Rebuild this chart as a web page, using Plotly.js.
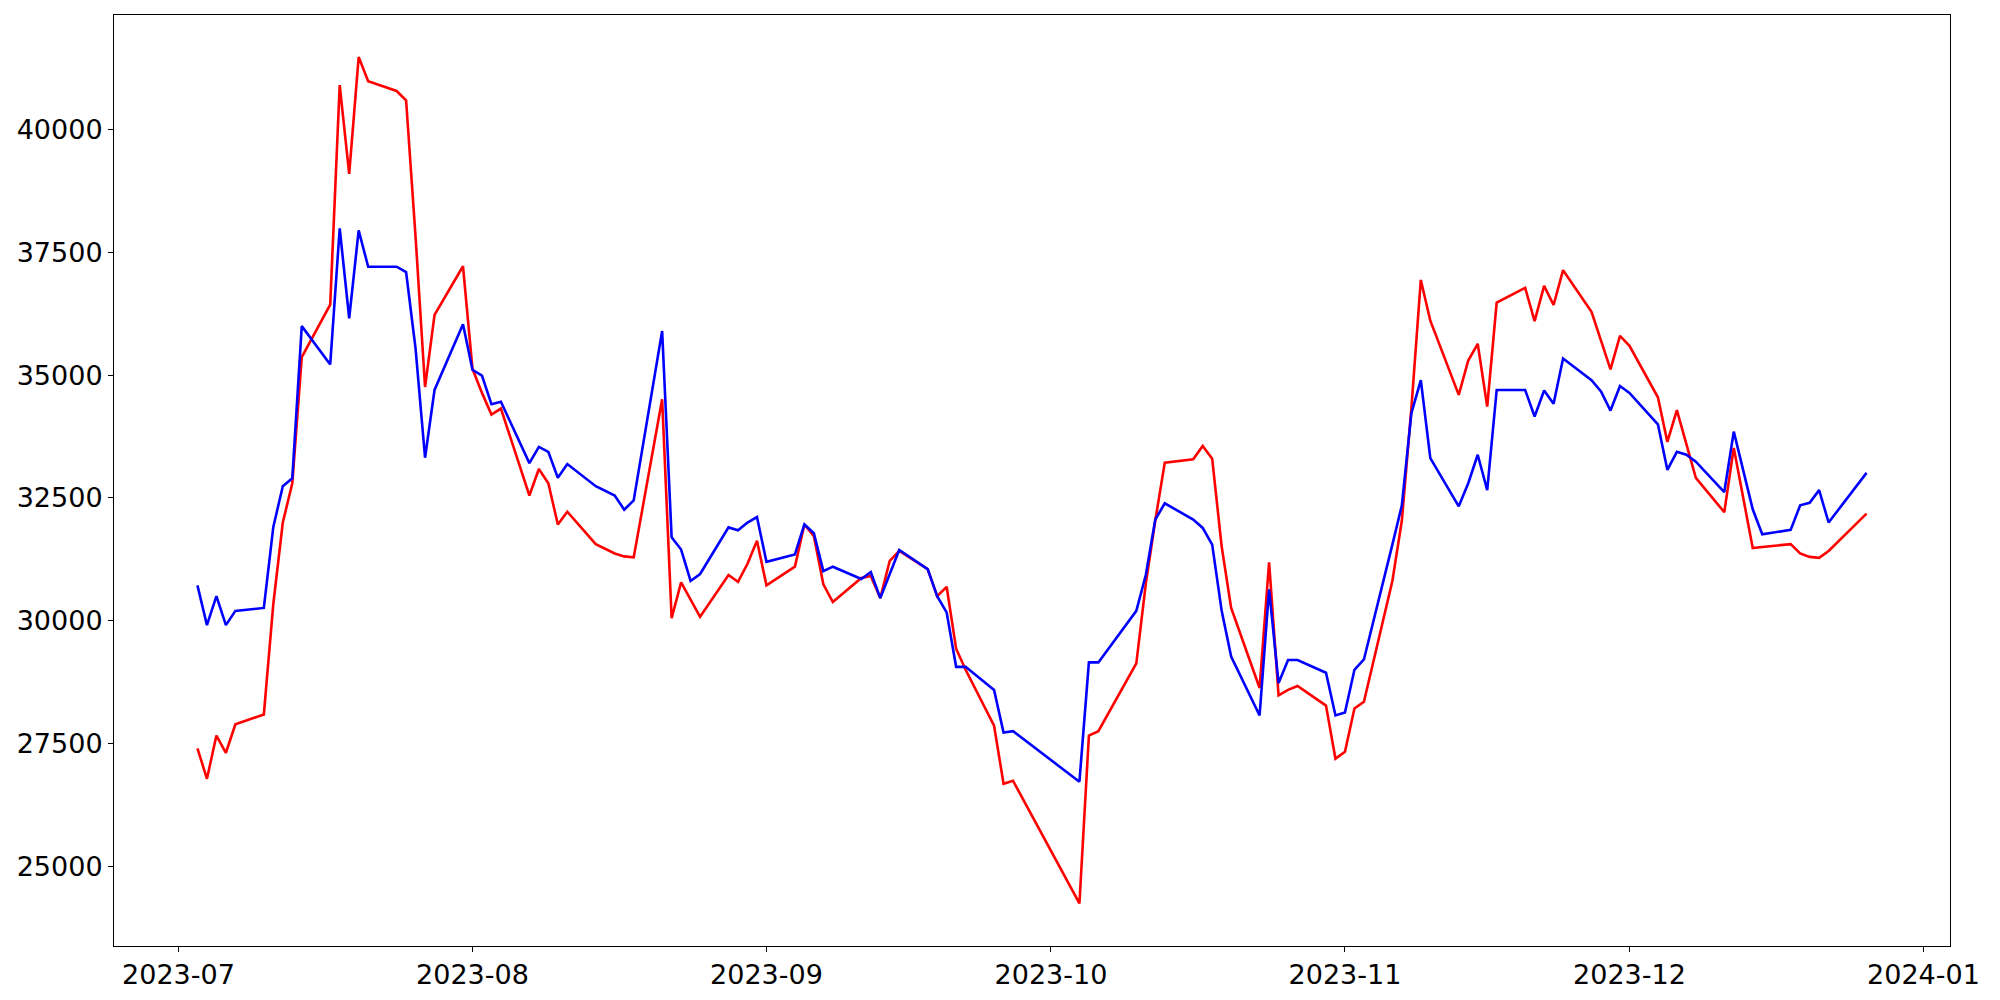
<!DOCTYPE html>
<html>
<head>
<meta charset="utf-8">
<script src="https://cdn.plot.ly/plotly-3.0.1.min.js"></script>
<style>html,body{margin:0;padding:0;background:#fff;}#chart{width:2000px;height:1000px;}</style>
</head>
<body>
<div id="chart"></div>
<script>
// Trading days (Jul 3 - Dec 26, 2023)
const dates = [
 '2023-07-03','2023-07-04','2023-07-05','2023-07-06','2023-07-07','2023-07-10','2023-07-11','2023-07-12','2023-07-13','2023-07-14',
 '2023-07-17','2023-07-18','2023-07-19','2023-07-20','2023-07-21','2023-07-24','2023-07-25','2023-07-26','2023-07-27','2023-07-28','2023-07-31',
 '2023-08-01','2023-08-02','2023-08-03','2023-08-04','2023-08-07','2023-08-08','2023-08-09','2023-08-10','2023-08-11','2023-08-14',
 '2023-08-16','2023-08-17','2023-08-18','2023-08-21','2023-08-22','2023-08-23','2023-08-24','2023-08-25','2023-08-28','2023-08-29','2023-08-30','2023-08-31',
 '2023-09-01','2023-09-04','2023-09-05','2023-09-06','2023-09-07','2023-09-08','2023-09-11','2023-09-12','2023-09-13','2023-09-14',
 '2023-09-15','2023-09-18','2023-09-19','2023-09-20','2023-09-21','2023-09-22','2023-09-25','2023-09-26','2023-09-27',
 '2023-10-04','2023-10-05','2023-10-06','2023-10-10','2023-10-11','2023-10-12','2023-10-13','2023-10-16','2023-10-17','2023-10-18',
 '2023-10-19','2023-10-20','2023-10-23','2023-10-24','2023-10-25','2023-10-26','2023-10-27','2023-10-30','2023-10-31',
 '2023-11-01','2023-11-02','2023-11-03','2023-11-06','2023-11-07','2023-11-08','2023-11-09','2023-11-10','2023-11-13','2023-11-14',
 '2023-11-15','2023-11-16','2023-11-17','2023-11-20','2023-11-21','2023-11-22','2023-11-23','2023-11-24','2023-11-27','2023-11-28','2023-11-29','2023-11-30',
 '2023-12-01','2023-12-04','2023-12-05','2023-12-06','2023-12-07','2023-12-08','2023-12-11','2023-12-12','2023-12-13','2023-12-14',
 '2023-12-15','2023-12-18','2023-12-19','2023-12-20','2023-12-21','2023-12-22','2023-12-26'
];

const redSeries = [
 27400,26780,27660,27310,27890,28090,30340,32000,32800,35370,
 36440,40910,39100,41480,40990,40790,40600,37820,34760,36230,37220,
 35130,34640,34200,34320,32550,33090,32800,31960,32220,31560,
 31370,31310,31290,34510,30050,30780,30430,30080,30930,30790,31160,31630,
 30720,31100,31960,31720,30740,30380,30870,30910,30460,31220,
 31420,31050,30500,30690,29430,29000,27860,26680,26740,
 24240,27660,27750,29130,30750,32040,33220,33290,33560,33300,
 31510,30260,28630,31190,28480,28590,28670,28270,27190,
 27330,28210,28350,30810,32040,34320,36940,36110,34600,35300,
 35640,34360,36480,36780,36100,36820,36430,37140,36290,35710,35120,35800,
 35600,34550,33640,34290,33580,32910,32210,33520,32500,31480,
 31500,31560,31370,31300,31280,31420,32180
];

const blueSeries = [
 30720,29910,30500,29910,30200,30260,31910,32740,32900,36000,
 35220,37990,36160,37950,37210,37210,37100,35540,33320,34700,36040,
 35110,34990,34410,34460,33210,33540,33440,32910,33190,32740,
 32550,32260,32450,35900,31700,31450,30810,30950,31900,31840,32000,32110,
 31200,31350,31960,31780,31010,31100,30850,30990,30460,30950,
 31440,31050,30500,30170,29060,29060,28590,27720,27750,
 26720,29150,29150,30200,30930,32060,32390,32060,31890,31550,
 30200,29270,28070,30640,28730,29200,29200,28940,28070,
 28130,29000,29210,31550,32350,34220,34900,33310,32330,32800,
 33380,32660,34700,34700,34160,34690,34420,35340,34900,34670,34280,34780,
 34640,34000,33070,33440,33380,33240,32620,33850,33080,32270,
 31760,31850,32350,32400,32660,32000,33010
];

const traces = [
  {x: dates, y: redSeries, type: 'scatter', mode: 'lines', line: {color: '#ff0000', width: 2.6}, showlegend: false},
  {x: dates, y: blueSeries, type: 'scatter', mode: 'lines', line: {color: '#0000ff', width: 2.6}, showlegend: false}
];

const axisFont = {family: 'DejaVu Sans, sans-serif', size: 27, color: '#000'};

const layout = {
  width: 2000, height: 1000,
  margin: {l: 114, r: 50, t: 15, b: 54, pad: 0},
  paper_bgcolor: '#fff', plot_bgcolor: '#fff',
  xaxis: {
    type: 'date',
    range: ['2023-06-24 04:48', '2024-01-03 19:12'],
    tick0: '2023-07-01', dtick: 'M1', tickformat: '%Y-%m',
    ticks: 'outside', ticklen: 5, tickwidth: 1, tickcolor: '#000',
    showgrid: false, zeroline: false,
    showline: true, linecolor: '#000', linewidth: 1, mirror: true,
    tickfont: axisFont
  },
  yaxis: {
    range: [23374, 42337],
    tick0: 0, dtick: 2500, tickformat: 'd',
    ticks: 'outside', ticklen: 5, tickwidth: 1, tickcolor: '#000',
    showgrid: false, zeroline: false,
    showline: true, linecolor: '#000', linewidth: 1, mirror: true,
    tickfont: axisFont
  }
};

Plotly.newPlot('chart', traces, layout, {staticPlot: true, displayModeBar: false});
</script>
</body>
</html>
